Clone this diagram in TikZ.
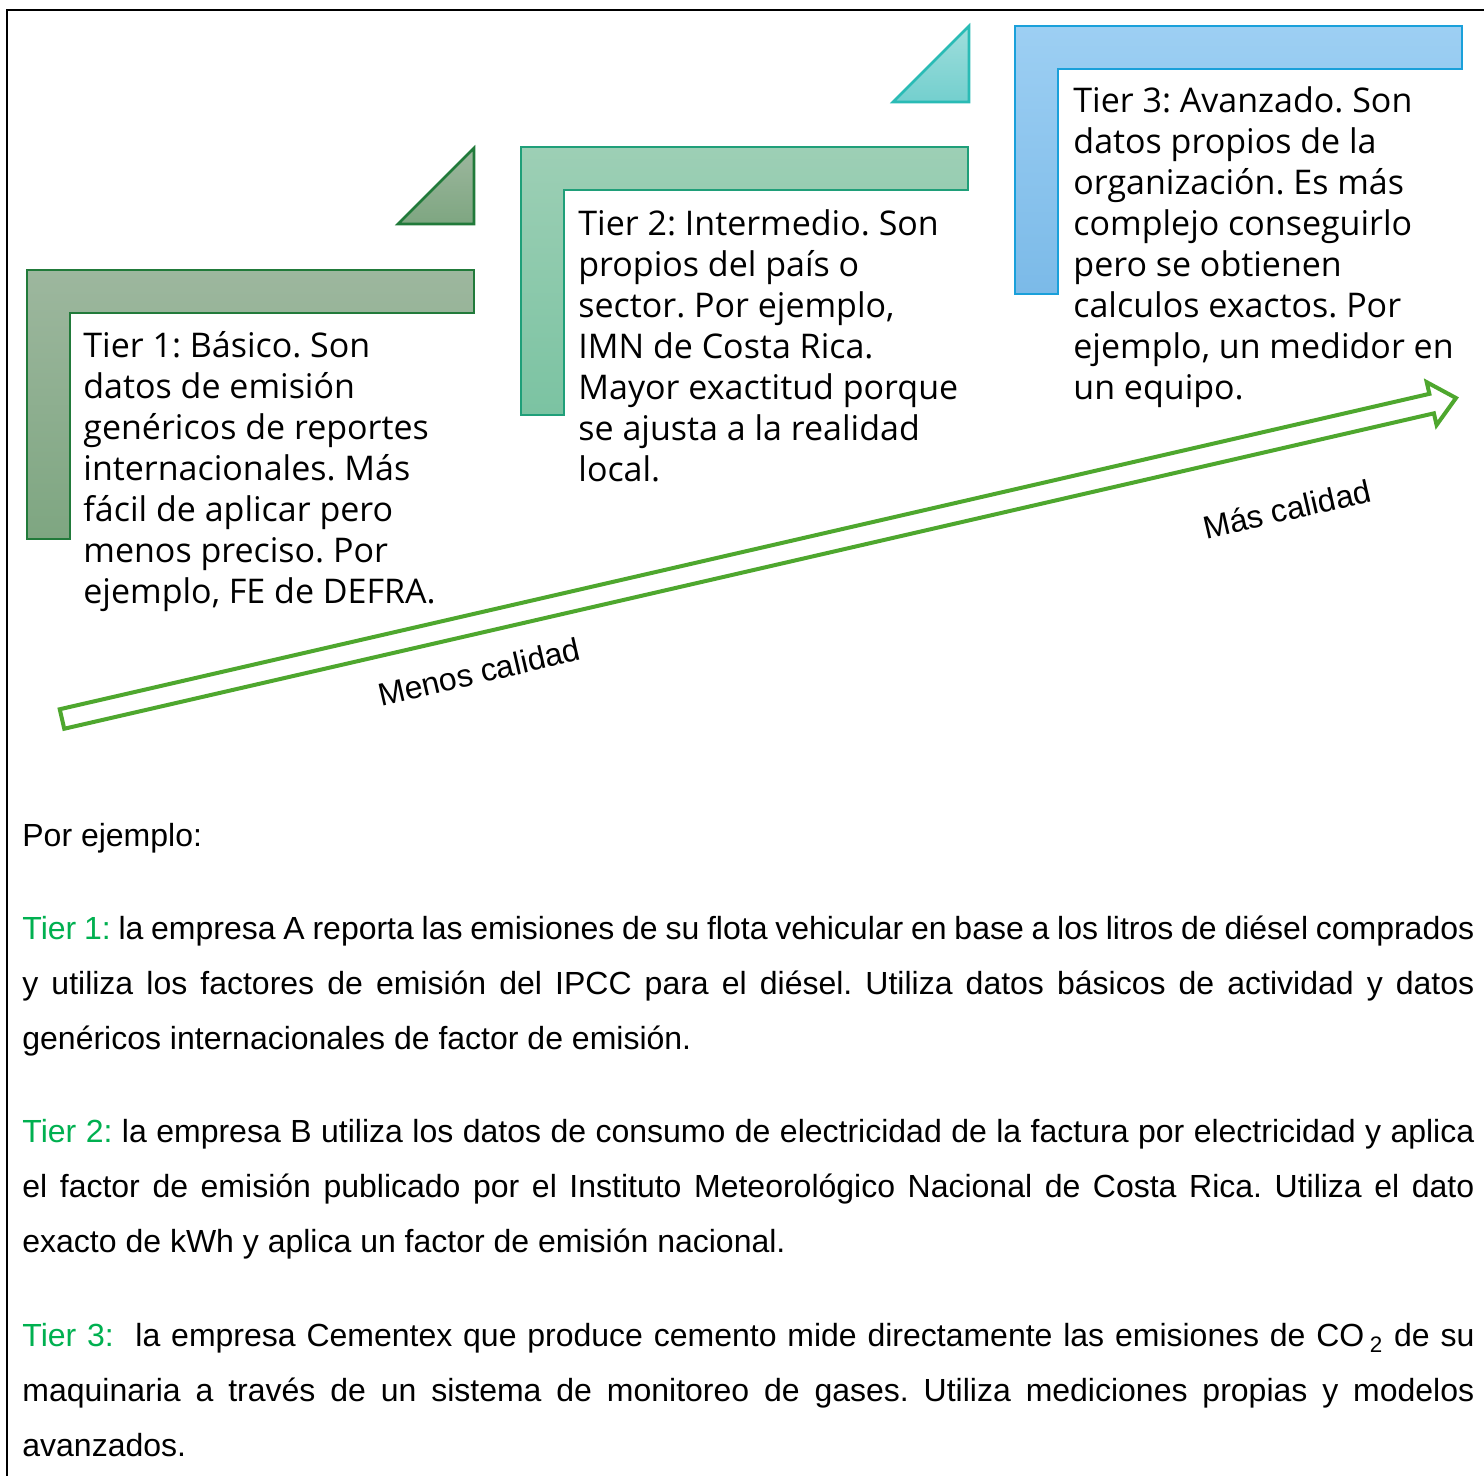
\documentclass[tikz,border=0pt]{standalone}
\usepackage{fontspec}
\setmainfont{Liberation Sans}
\newfontfamily\boxfont{Open Sans}
\usetikzlibrary{calc}
\frenchspacing
\hyphenpenalty=10000
\exhyphenpenalty=10000
\tolerance=9999
\definecolor{onedraw}{HTML}{217A3A}
\definecolor{onetop}{HTML}{9DB79E}
\definecolor{onebot}{HTML}{7EA681}
\definecolor{twodraw}{HTML}{1F9F79}
\definecolor{twotop}{HTML}{9DCFB5}
\definecolor{twobot}{HTML}{7BC3A2}
\definecolor{tridraw}{HTML}{2ABBB5}
\definecolor{tritop}{HTML}{A0DEDC}
\definecolor{tribot}{HTML}{73CFCE}
\definecolor{threedraw}{HTML}{1AA0DA}
\definecolor{threetop}{HTML}{9DCFF3}
\definecolor{threebot}{HTML}{7BBAE8}
\definecolor{arrowgreen}{HTML}{4EA72E}
\definecolor{tiergreen}{HTML}{00B050}
\begin{document}
\begin{tikzpicture}[x=0.5pt,y=-0.5pt,line join=miter,
  stepshape/.style={line width=1.3pt},
  tiertext/.style={anchor=north west,inner sep=0pt,align=left,font=\boxfont\fontsize{17}{20.5}\selectfont},
  extext/.style={anchor=north west,inner sep=0pt,text width=726pt,align=justify,font=\fontsize{16}{27.5}\selectfont},
  qualtext/.style={inner sep=0pt,rotate=13.06,font=\fontsize{16}{19}\selectfont}]
\useasboundingbox (0,0) rectangle (1484,1476);
% frame
\draw[line width=1pt] (7,1476) -- (7,10) -- (1484,10);
% steps
\draw[stepshape,draw=onedraw,top color=onetop,bottom color=onebot] (27,270) -- (474,270) -- (474,313) -- (70,313) -- (70,539) -- (27,539) -- cycle;
\draw[stepshape,draw=onedraw,top color=onetop,bottom color=onebot] (398,224) -- (474,148) -- (474,224) -- cycle;
\draw[stepshape,draw=twodraw,top color=twotop,bottom color=twobot] (521,147) -- (968,147) -- (968,190) -- (564,190) -- (564,415) -- (521,415) -- cycle;
\draw[stepshape,draw=tridraw,top color=tritop,bottom color=tribot] (893,102) -- (969,26) -- (969,102) -- cycle;
\draw[stepshape,draw=threedraw,top color=threetop,bottom color=threebot] (1015,26) -- (1462,26) -- (1462,69) -- (1058,69) -- (1058,294) -- (1015,294) -- cycle;
% step texts
\node[tiertext] (tierone) at (83,328) {\strut Tier 1: Básico. Son\\datos de emisión\\genéricos de reportes\\internacionales. Más\\fácil de aplicar pero\\menos preciso. Por\\ejemplo, FE de DEFRA.};
\node[tiertext] (tiertwo) at (578,206) {\strut Tier 2: Intermedio. Son\\propios del país o\\sector. Por ejemplo,\\IMN de Costa Rica.\\Mayor exactitud porque\\se ajusta a la realidad\\local.};
\node[tiertext] (tierthree) at (1073,83) {\strut Tier 3: Avanzado. Son\\datos propios de la\\organización. Es más\\complejo conseguirlo\\pero se obtienen\\calculos exactos. Por\\ejemplo, un medidor en\\un equipo.};
% quality arrow
\coordinate (lo) at (62,719);
\coordinate (hi) at (1456,398);
\coordinate (hb) at ($(hi)!12.5pt!(lo)$);
\draw[line width=2pt,draw=arrowgreen,fill=white] ($(lo)!5pt!90:(hi)$) -- ($(hb)!5pt!90:(hi)$) -- ($(hb)!11pt!90:(hi)$) -- (hi) -- ($(hb)!11pt!-90:(hi)$) -- ($(hb)!5pt!-90:(hi)$) -- ($(lo)!5pt!-90:(hi)$) -- cycle;
\node[qualtext] (menos) at (479,672) {Menos calidad};
\node[qualtext] (mas) at (1287,509) {Más calidad};
% examples
\node[extext] (porej) at (22,808) {\strut Por ejemplo:};
\node[extext] (exone) at (22,901) {\strut\textcolor{tiergreen}{Tier 1:} la empresa A reporta las emisiones de su flota vehicular en base a los litros de diésel comprados\linebreak y utiliza los factores de emisión del IPCC para el diésel. Utiliza datos básicos de actividad y datos\linebreak genéricos internacionales de factor de emisión.};
\node[extext] (extwo) at (22,1104) {\strut\textcolor{tiergreen}{Tier 2:} la empresa B utiliza los datos de consumo de electricidad de la factura por electricidad y aplica\linebreak el factor de emisión publicado por el Instituto Meteorológico Nacional de Costa Rica. Utiliza el dato\linebreak exacto de kWh y aplica un factor de emisión nacional.};
\node[extext] (exthree) at (22,1308) {\strut\textcolor{tiergreen}{Tier 3:}\ \ la empresa Cementex que produce cemento mide directamente las emisiones de CO\,\textsubscript{2} de su\linebreak maquinaria a través de un sistema de monitoreo de gases. Utiliza mediciones propias y modelos\linebreak avanzados.};
\end{tikzpicture}
\end{document}
